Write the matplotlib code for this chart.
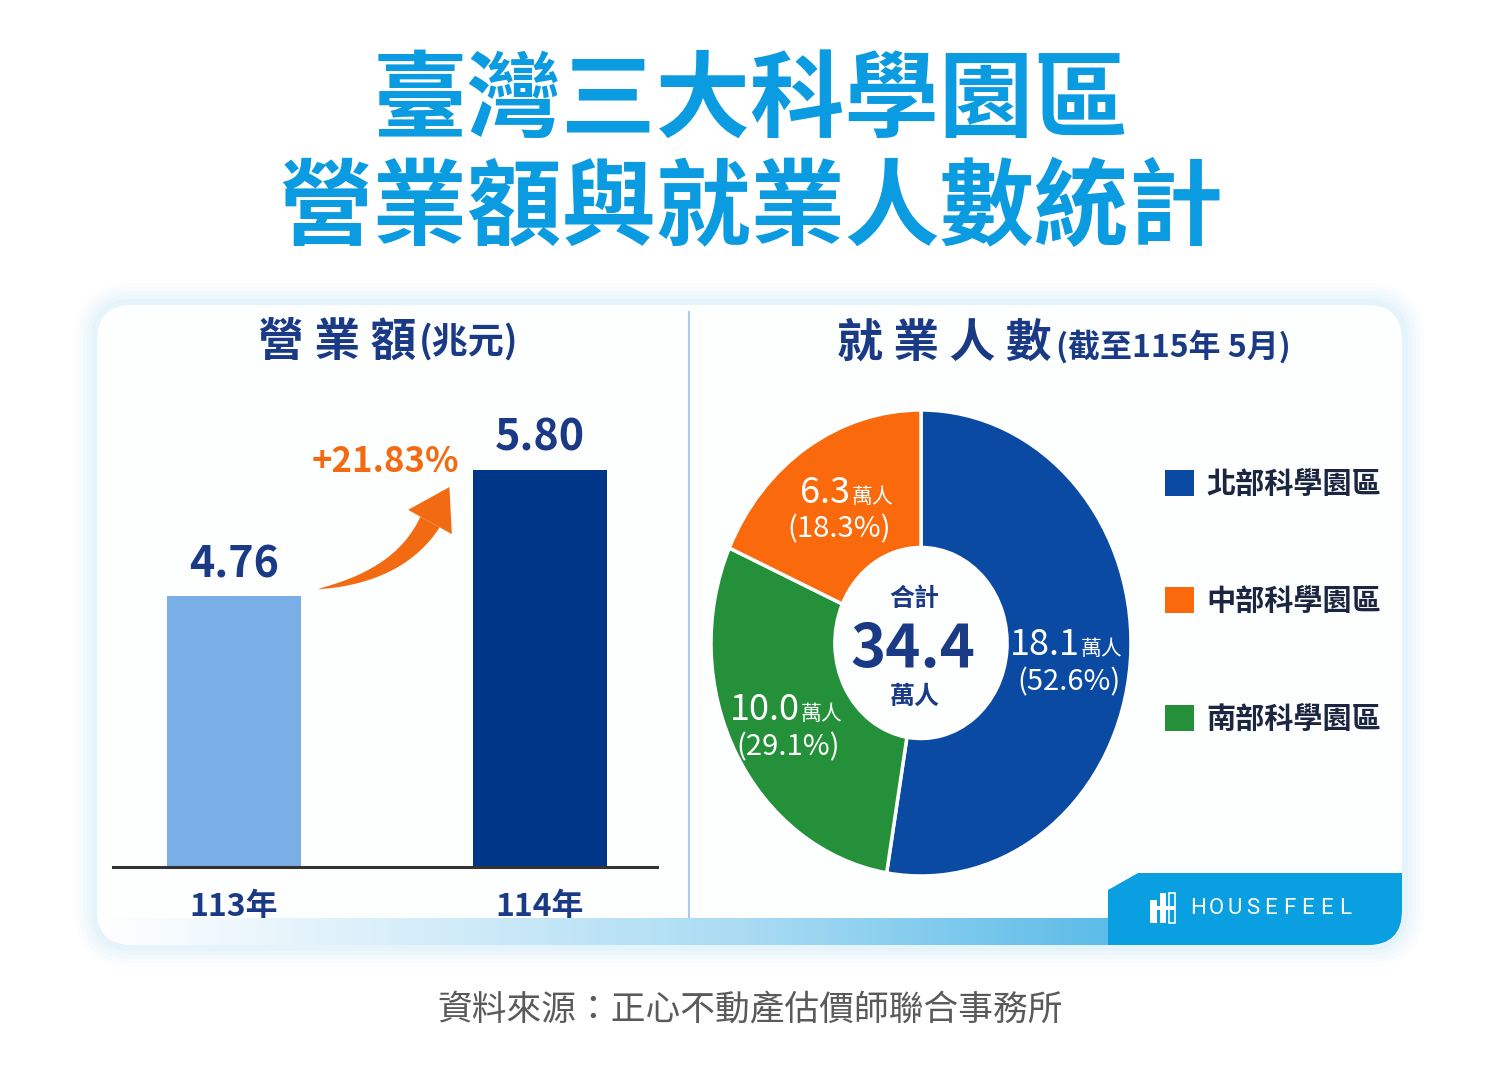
import numpy as np
import matplotlib
matplotlib.use("Agg")
import matplotlib.pyplot as plt
from matplotlib.patches import FancyBboxPatch, Polygon, Rectangle
from matplotlib.colors import LinearSegmentedColormap

plt.rcParams['font.family'] = ['Noto Sans CJK TC', 'DejaVu Sans']

# data
years = ['113年', '114年']
revenue = [4.76, 5.80]
growth = '+21.83%'
parks = ['北部科學園區', '南部科學園區', '中部科學園區']
workers = [18.1, 10.0, 6.3]   # 萬人
total = 34.4

navy = '#1b3a86'
title_blue = '#0a9be0'
orange = '#f26b12'
park_colors = ['#0b4aa2', '#24913a', '#fa6a0c']

W, H = 1500, 1078
fig = plt.figure(figsize=(W / 100, H / 100), dpi=100)
fig.patch.set_facecolor('white')

def px_axes(zorder):
    a = fig.add_axes([0, 0, 1, 1], zorder=zorder)
    a.set_xlim(0, W)
    a.set_ylim(H, 0)
    a.axis('off')
    a.patch.set_alpha(0)
    return a

bg = px_axes(0)

# glow around card
for i, al in enumerate([0.05, 0.06, 0.08, 0.1, 0.14]):
    g = 22 - i * 4
    bg.add_patch(FancyBboxPatch((97 - g, 305 - g), 1305 + 2 * g, 640 + 2 * g,
                                boxstyle="round,pad=0,rounding_size=%d" % (35 + g),
                                fc='#bfe3f7', ec='none', alpha=al))
bg.add_patch(FancyBboxPatch((97, 305), 1305, 640, boxstyle="round,pad=0,rounding_size=35",
                            fc='#fdfefe', ec='none'))
bg.plot([689, 689], [312, 928], color='#a9cdee', lw=1.5)

# titles
bg.text(751, 102, '臺灣三大科學園區', ha='center', va='center', fontsize=68,
        fontweight='bold', color=title_blue)
bg.text(751, 210, '營業額與就業人數統計', ha='center', va='center', fontsize=68,
        fontweight='bold', color=title_blue)
bg.text(416, 357, '營 業 額', ha='right', va='baseline', fontsize=33, fontweight='bold', color=navy)
bg.text(419, 353, '(兆元)', ha='left', va='baseline', fontsize=26, fontweight='bold', color=navy)
bg.text(1052, 357, '就 業 人 數', ha='right', va='baseline', fontsize=33, fontweight='bold', color=navy)
bg.text(1056, 357, '(截至115年 5月)', ha='left', va='baseline', fontsize=23, fontweight='bold', color=navy)

bg.text(750, 1010, '資料來源：正心不動產估價師聯合事務所', ha='center', va='center',
        fontsize=25, color='#5a5a5a')

# ---- bar chart
ax = fig.add_axes([113 / W, (H - 867) / H, 544 / W, 467 / H], zorder=1)
ax.patch.set_alpha(0)
bars = ax.bar([0, 1], revenue, width=0.44, color=['#7aaee6', '#003688'], bottom=0)
ax.set_ylim(2.54, 6.37)
ax.set_xlim(-0.395, 1.382)
ax.bar_label(bars, labels=['%.2f' % v for v in revenue], padding=7, fontsize=31,
             fontweight='bold', color=navy)
ax.set_xticks([0, 1])
ax.set_xticklabels(years, fontsize=23, fontweight='bold', color=navy)
ax.tick_params(axis='x', length=0, pad=17)
ax.set_yticks([])
for s in ['top', 'left', 'right']:
    ax.spines[s].set_visible(False)
ax.spines['bottom'].set_color('#333333')
ax.spines['bottom'].set_linewidth(2.2)

bg.text(385, 461, growth, ha='center', va='center', fontsize=25, fontweight='bold', color=orange)

# curved growth arrow: tapering body along a quadratic curve plus a head
P0, P1, P2 = np.array([318., 589.]), np.array([400., 576.]), np.array([430., 522.])
t = np.linspace(0, 1, 60)[:, None]
curve = (1 - t) ** 2 * P0 + 2 * (1 - t) * t * P1 + t ** 2 * P2
tang = 2 * (1 - t) * (P1 - P0) + 2 * t * (P2 - P1)
tang /= np.linalg.norm(tang, axis=1)[:, None]
norm = np.column_stack([-tang[:, 1], tang[:, 0]])
hw = 11 * t ** 0.8
body = np.vstack([curve + norm * hw, (curve - norm * hw)[::-1]])
bg.add_patch(Polygon(body, closed=True, fc=orange, ec='none', zorder=3))
d, n = tang[-1], norm[-1]
head = np.array([P2 + n * 25, P2 + d * 40, P2 - n * 25])
bg.add_patch(Polygon(head, closed=True, fc=orange, ec='none', zorder=3))

# ---- donut
cx, cy, rx, ry = 921, 643, 210, 233
pa = fig.add_axes([(cx - 1.25 * rx) / W, (H - cy - 1.25 * ry) / H, 2.5 * rx / W, 2.5 * ry / H], zorder=1)
pa.patch.set_alpha(0)
wedges, _ = pa.pie(workers, colors=park_colors, startangle=90, counterclock=False,
                   wedgeprops=dict(width=0.59, edgecolor='white', linewidth=2.5))
pa.set_aspect('auto')
pa.set_xlim(-1.25, 1.25)
pa.set_ylim(-1.25, 1.25)
pa.axis('off')

pct = [w / sum(workers) * 100 for w in workers]
for w, v, p in zip(wedges, workers, pct):
    ang = np.deg2rad((w.theta1 + w.theta2) / 2)
    x, y = 0.71 * np.cos(ang), 0.71 * np.sin(ang)
    pa.text(x + 0.05, y + 0.005, '%.1f' % v, ha='right', va='baseline', fontsize=26, color='white')
    pa.text(x + 0.055, y + 0.005, '萬人', ha='left', va='baseline', fontsize=15, color='white')
    pa.text(x - 0.005, y - 0.11, '(%.1f%%)' % p, ha='center', va='center', fontsize=21, color='white')

pa.text(-0.03, 0.19, '合計', ha='center', va='center', fontsize=18, fontweight='bold', color=navy)
pa.text(-0.04, -0.03, '%.1f' % total, ha='center', va='center', fontsize=43, fontweight='bold', color=navy)
pa.text(-0.03, -0.23, '萬人', ha='center', va='center', fontsize=18, fontweight='bold', color=navy)

order = [0, 2, 1]
leg = fig.legend([wedges[i] for i in order], [parks[i] for i in order],
                 loc='upper left', bbox_to_anchor=(1150 / W, 1 - 454 / H),
                 bbox_transform=fig.transFigure, frameon=False, borderpad=0,
                 handlelength=1, handleheight=1, handletextpad=0.42, labelspacing=3.0,
                 prop=dict(family=['Noto Sans CJK TC'], weight='bold', size=21))
for tx in leg.get_texts():
    tx.set_color('#1c2640')
for h in leg.legend_handles:
    h.set_edgecolor('none')

# ---- bottom strip and logo tab
top = px_axes(3)
clip = FancyBboxPatch((97, 305), 1305, 640, boxstyle="round,pad=0,rounding_size=35",
                      fc='none', ec='none', transform=top.transData)
top.add_patch(clip)
cmap = LinearSegmentedColormap.from_list('strip', ['#ffffff', '#a9dbf3', '#1ea3e0'])
im = top.imshow(np.linspace(0, 1, 256)[None, :], cmap=cmap, aspect='auto',
                extent=[97, 1402, 945, 918], zorder=1)
im.set_clip_path(clip)
top.set_xlim(0, W)
top.set_ylim(H, 0)
tab = Polygon([(1108, 946), (1108, 890), (1138, 873), (1402, 873), (1402, 946)],
              closed=True, fc='#0a9fe0', ec='none', zorder=2)
top.add_patch(tab)
tab.set_clip_path(clip)

# logo mark
top.add_patch(Rectangle((1150, 900), 7, 23, fc='white', ec='none', zorder=3))
top.add_patch(Rectangle((1160, 893), 6, 30, fc='white', ec='none', zorder=3))
top.add_patch(Rectangle((1169, 893), 6, 30, fc='none', ec='white', lw=1.2, zorder=3))
top.add_patch(Rectangle((1150, 906), 25, 4, fc='white', ec='none', zorder=3))
for i, ch in enumerate('HOUSEFEEL'):
    top.text(1190 + i * 18.6, 908, ch, ha='left', va='center', fontsize=16,
             family=['Roboto', 'DejaVu Sans'], color='white', zorder=3)

fig.savefig('out.png', dpi=100)
